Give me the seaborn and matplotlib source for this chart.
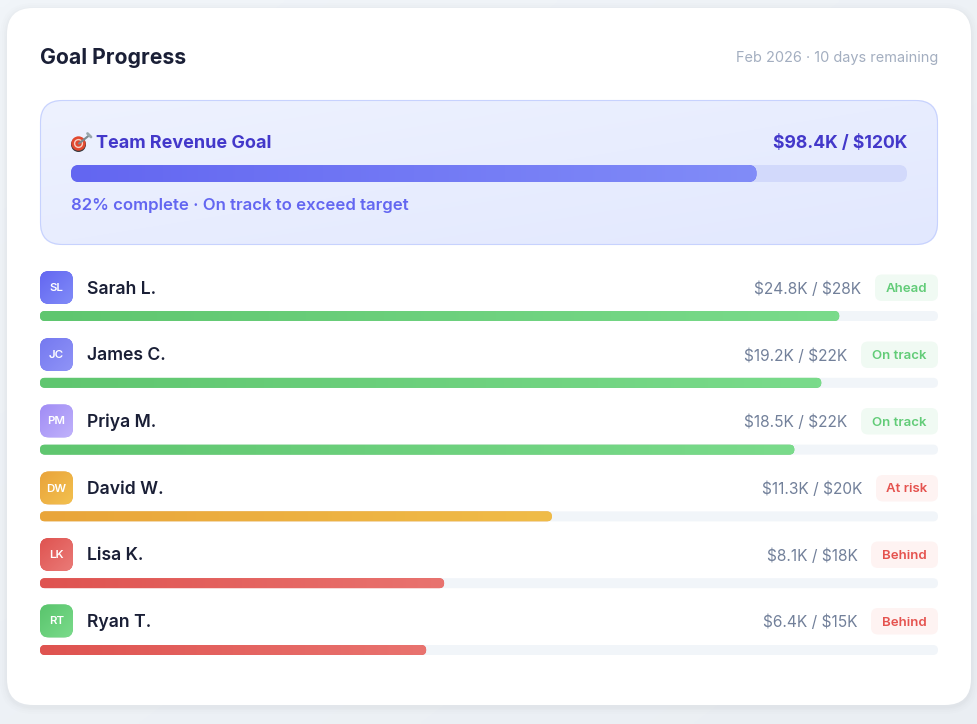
import numpy as np
import seaborn as sns
import matplotlib.pyplot as plt
from matplotlib.colors import LinearSegmentedColormap
from matplotlib.patches import FancyBboxPatch, Circle

# Team goal
team_label = 'Team Revenue Goal'
team_amount = r'\$98.4K / \$120K'
team_note = '82% complete · On track to exceed target'
team_progress = [82]

# People
names = ['Sarah L.', 'James C.', 'Priya M.', 'David W.', 'Lisa K.', 'Ryan T.']
initials = ['SL', 'JC', 'PM', 'DW', 'LK', 'RT']
amounts = [r'\$24.8K / \$28K', r'\$19.2K / \$22K', r'\$18.5K / \$22K',
           r'\$11.3K / \$20K', r'\$8.1K / \$18K', r'\$6.4K / \$15K']
statuses = ['Ahead', 'On track', 'On track', 'At risk', 'Behind', 'Behind']
progress = [89, 87, 84, 57, 45, 43]

# Colours
avatar_colors = [('#6366f1', '#818cf8'), ('#7579f0', '#9094f7'), ('#a08cf5', '#c0b2fb'),
                 ('#e9a33a', '#f3c14f'), ('#df5350', '#ea7b78'), ('#59c46c', '#7adb8b')]
status_colors = {'Ahead': ('#f0faf3', '#62cc78'), 'On track': ('#f0faf3', '#62cc78'),
                 'At risk': ('#fef3f2', '#e5534f'), 'Behind': ('#fef3f2', '#e5534f')}
bar_colors = {'Ahead': ('#5fc66f', '#7adb8b'), 'On track': ('#5fc66f', '#7adb8b'),
              'At risk': ('#e9a53a', '#f0bc48'), 'Behind': ('#df5350', '#e9736f')}
badge_widths = {'Ahead': 63, 'On track': 77, 'At risk': 62, 'Behind': 67}

W, H = 978, 724
FONT = 'Inter'

sns.set_theme(style='white')
plt.rcParams['font.family'] = [FONT, 'DejaVu Sans']

fig = plt.figure(figsize=(W / 100, H / 100), dpi=100, facecolor='#f0f4f8')

# page axes, in pixels
page = fig.add_axes([0, 0, 1, 1])
page.set_xlim(0, W)
page.set_ylim(H, 0)
page.axis('off')
page.set_autoscale_on(False)


def rounded(x0, y0, x1, y1, r, **kw):
    box = FancyBboxPatch((x0 + r, y0 + r), x1 - x0 - 2 * r, y1 - y0 - 2 * r,
                         boxstyle=f'round,pad={r},rounding_size={r}', mutation_aspect=1, **kw)
    page.add_patch(box)
    return box


def gradient(x0, y0, x1, y1, c0, c1, clip, diagonal=False, zorder=3):
    cmap = LinearSegmentedColormap.from_list('g', [c0, c1])
    u = np.linspace(0, 1, 200)
    if diagonal:
        grid = (u[None, :] + u[:, None]) / 2
    else:
        grid = u[None, :]
    im = page.imshow(grid, extent=(x0, x1, y1, y0), origin='upper', cmap=cmap, vmin=0, vmax=1,
                     aspect='auto', zorder=zorder, interpolation='bilinear')
    im.set_clip_path(clip)
    return im


def label(x, y, text, color, size, weight='normal', ha='left'):
    page.text(x, y, text, color=color, fontsize=size * 0.72, fontweight=weight, ha=ha,
              va='center_baseline', zorder=8)


def bar_axes(x0, x1, y0, y1):
    ax = fig.add_axes([x0 / W, 1 - y1 / H, (x1 - x0) / W, (y1 - y0) / H])
    ax.patch.set_alpha(0)
    return ax


def round_bars(ax, track_end, fills, track_color, r, zorder=3):
    # swap the square seaborn bars for rounded ones at the same place
    inv = page.transData.inverted()
    for patch, (c0, c1) in zip(ax.patches, fills):
        bb = patch.get_bbox().transformed(ax.transData).transformed(inv)
        x0, x1 = min(bb.x0, bb.x1), max(bb.x0, bb.x1)
        y0, y1 = min(bb.y0, bb.y1), max(bb.y0, bb.y1)
        rounded(x0, y0, track_end, y1, r, fc=track_color, ec='none', zorder=zorder)
        clip = rounded(x0, y0, x1, y1, r, fc=c0, ec='none', zorder=zorder + 1)
        gradient(x0, y0, x1, y1, c0, c1, clip, zorder=zorder + 2)
        patch.set_visible(False)


# background and card
gradient(0, 0, W, H, '#f1f5f9', '#eaeef3', page.patch, diagonal=True, zorder=0)
for grow, alpha in zip([7, 5, 3, 1.5], [0.006, 0.008, 0.01, 0.012]):
    rounded(7 - grow, 8 - grow + 2, 971 + grow, 705 + grow + 2, 26 + grow, fc='#1a2040', ec='none',
            alpha=alpha, zorder=1)
rounded(7, 8, 971, 705, 26, fc='white', ec='none', zorder=2)

label(40, 56, 'Goal Progress', '#1a1f36', 21.2, 'bold')
label(938, 56.5, 'Feb 2026 · 10 days remaining', '#a3aec0', 14.5, ha='right')

# team banner
banner = rounded(40, 100, 938, 245, 22, fc='#e9edfd', ec='none', zorder=3)
gradient(40, 100, 938, 245, '#eef2ff', '#e2e8fe', banner, diagonal=True, zorder=3)
rounded(40.5, 100.5, 937.5, 244.5, 22, fc='none', ec='#c7d2fe', lw=0.8, zorder=4)

# target icon
page.add_patch(Circle((78.5, 144.5), 7.5, fc='#3a3a40', ec='none', zorder=6))
page.add_patch(Circle((78.5, 143.5), 7.2, fc='#e2492f', ec='none', zorder=6))
page.add_patch(Circle((78.5, 143.5), 4.6, fc='#f6d0c4', ec='none', zorder=6))
page.add_patch(Circle((78.5, 143.5), 3.2, fc='#e2492f', ec='none', zorder=6))
page.plot([79, 89], [143.5, 135.5], color='#7c8a8f', lw=1.5, zorder=7)
page.plot([87.5, 91], [133.5, 137], color='#9aa8ad', lw=2, zorder=7)

label(96.5, 141, team_label, '#4338ca', 18, 'bold')
label(907, 141, team_amount, '#4338ca', 17.6, 'bold', ha='right')
label(71, 204, team_note, '#6366f1', 16.75, 'semibold')

team_ax = bar_axes(71, 907, 165, 182)
sns.barplot(x=team_progress, y=[team_label], orient='h', width=1, color='#6366f1', ax=team_ax)
team_ax.set_xlim(0, 100)
team_ax.axis('off')
round_bars(team_ax, 907, [('#6366f1', '#818cf8')], '#d2d9fb', 8, zorder=5)

# people rows
rows_ax = bar_axes(40, 938, 282.6, 683.4)
sns.barplot(x=progress, y=names, orient='h', width=10 / 66.8, color='#5fc66f', ax=rows_ax)
rows_ax.set_xlim(0, 100)
rows_ax.set_ylim(5.5, -0.5)
rows_ax.axis('off')
round_bars(rows_ax, 938, [bar_colors[s] for s in statuses], '#f1f5f9', 5, zorder=3)

row_centers = [287.5, 354.5, 421, 488, 554.5, 621]
for i, cy in enumerate(row_centers):
    c0, c1 = avatar_colors[i]
    av = rounded(40, cy - 16.5, 73, cy + 16.5, 9, fc=c0, ec='none', zorder=3)
    gradient(40, cy - 16.5, 73, cy + 16.5, c0, c1, av, diagonal=True, zorder=4)
    label(56.5, cy - 0.5, initials[i], 'white', 11.5, 'semibold', ha='center')
    label(87, cy - 0.5, names[i], '#1a1f36', 17.6, 'semibold')
    bg, fg = status_colors[statuses[i]]
    left = 938 - badge_widths[statuses[i]]
    rounded(left, cy - 13, 938, cy + 13.5, 7, fc=bg, ec='none', zorder=3)
    label((left + 938) / 2, cy, statuses[i], fg, 13.2, 'semibold', ha='center')
    label(left - 13.5, cy, amounts[i], '#72809a', 15.5, ha='right')

fig.savefig('out.png', dpi=100, facecolor=fig.get_facecolor())
plt.close(fig)
